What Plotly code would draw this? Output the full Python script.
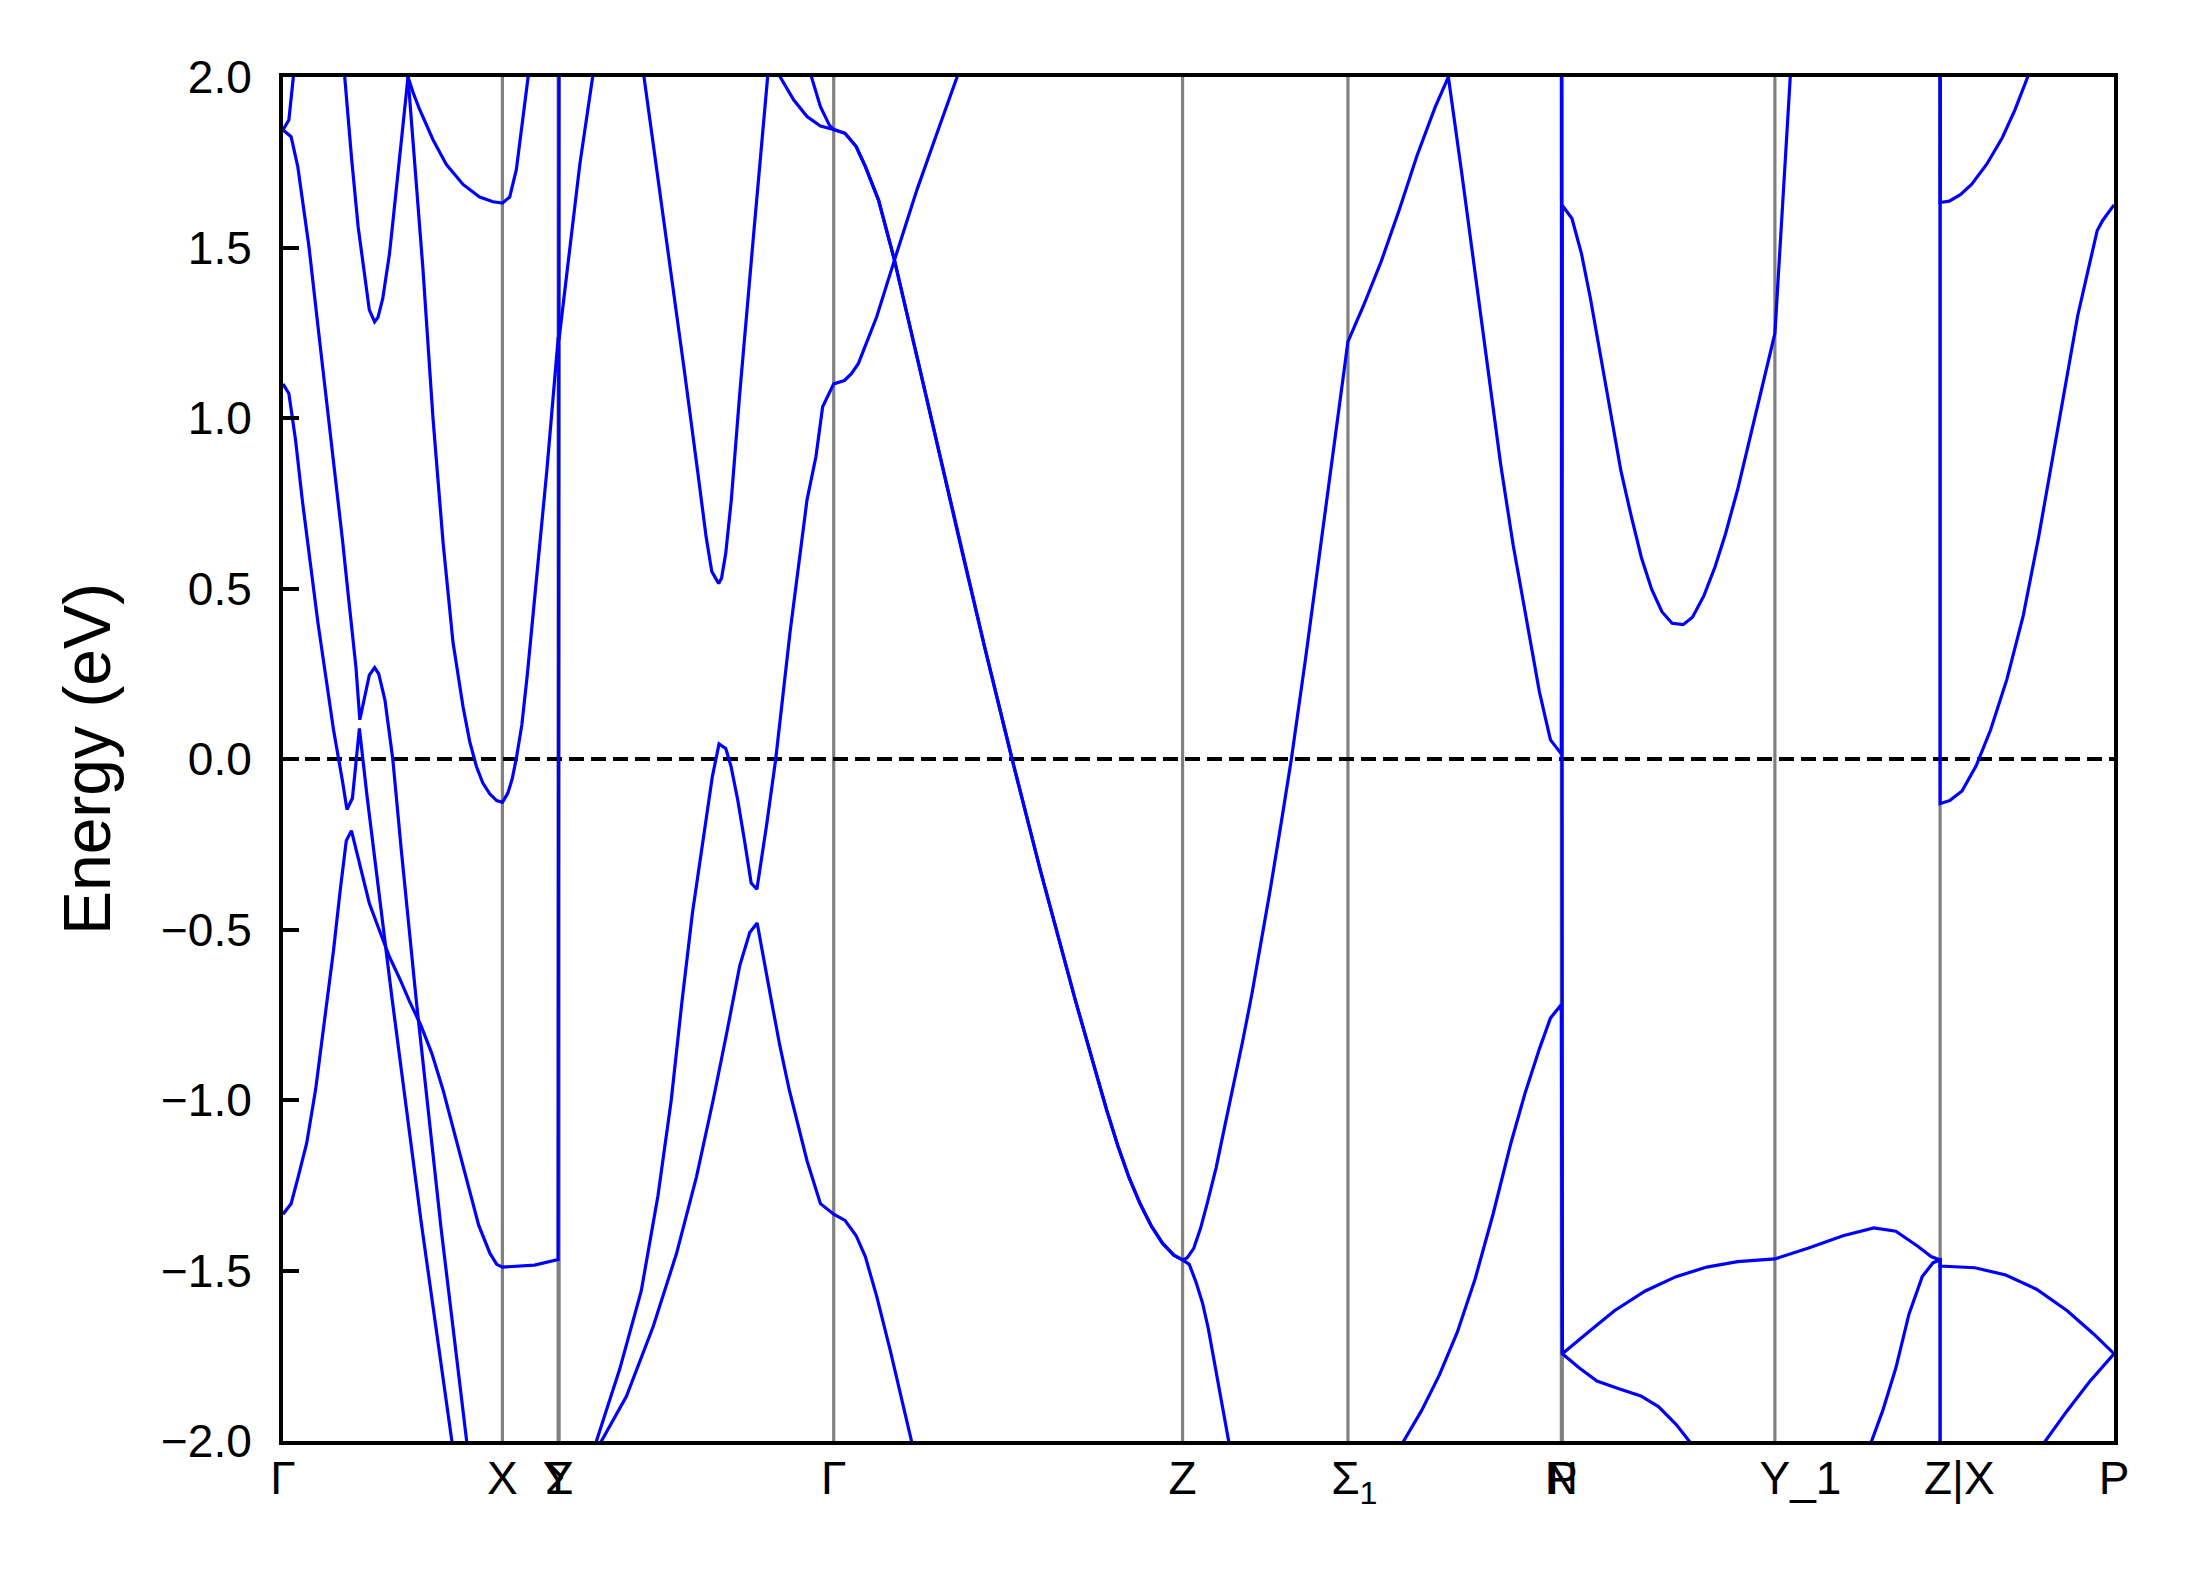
import plotly.graph_objects as go

# ---------------- high-symmetry path (BCT2) ----------------
k_ticks = [0.000, 1.571, 1.970, 1.977, 3.943, 6.441, 7.625, 9.153, 9.160, 10.682, 11.865, 13.110]
k_labels = ["Γ", "X", "Y", "Σ", "Γ", "Z", "Σ<sub>1</sub>", "N", "P", "Y_1", "Z|X", "P"]

energy_window = [-2.0, 2.0]
energy_ticks = [-2.0, -1.5, -1.0, -0.5, 0.0, 0.5, 1.0, 1.5, 2.0]
energy_tick_labels = ["−2.0", "−1.5", "−1.0", "−0.5", "0.0", "0.5", "1.0", "1.5", "2.0"]
fermi_level = 0.0

# ---------------- bands: (k, E in eV) ----------------
band_a = [(0.000, 1.845), (0.042, 1.874), (0.074, 2.000), (0.090, 2.063)]

band_b = [(0.000, 1.845), (0.020, 1.838), (0.058, 1.825), (0.106, 1.737), (0.186, 1.502),
          (0.250, 1.270), (0.330, 0.990), (0.394, 0.760), (0.426, 0.642), (0.470, 0.470),
          (0.522, 0.271), (0.550, 0.115), (0.618, 0.246), (0.656, 0.268), (0.685, 0.250),
          (0.730, 0.173), (0.786, 0.000), (0.847, -0.267), (0.900, -0.480), (0.954, -0.707),
          (1.130, -1.370), (1.315, -2.000), (1.370, -2.187)]

band_c = [(0.000, 1.100), (0.042, 1.072), (0.090, 0.935), (0.138, 0.760), (0.250, 0.400),
          (0.362, 0.085), (0.426, -0.065), (0.458, -0.148), (0.497, -0.115), (0.547, 0.090),
          (0.602, -0.110), (0.666, -0.320), (0.730, -0.520), (0.780, -0.700), (0.990, -1.360),
          (1.209, -2.000), (1.270, -2.178)]

band_d = [(0.000, -1.335), (0.058, -1.304), (0.106, -1.230), (0.170, -1.126), (0.234, -0.968),
          (0.298, -0.759), (0.362, -0.560), (0.410, -0.384), (0.453, -0.240), (0.490, -0.210),
          (0.554, -0.316), (0.618, -0.423), (0.698, -0.511), (0.762, -0.580), (0.842, -0.650),
          (0.905, -0.710), (0.986, -0.780), (1.066, -0.864), (1.145, -0.969), (1.226, -1.094),
          (1.322, -1.251), (1.401, -1.367), (1.482, -1.450), (1.530, -1.482), (1.571, -1.490),
          (1.801, -1.484), (1.970, -1.468), (1.977, 2.600)]

band_e = [(0.400, 2.205), (0.442, 2.000), (0.490, 1.766), (0.538, 1.561), (0.586, 1.405),
          (0.618, 1.317), (0.656, 1.282), (0.680, 1.295), (0.714, 1.350), (0.740, 1.415),
          (0.762, 1.480), (0.788, 1.580), (0.810, 1.670), (0.835, 1.772), (0.858, 1.864),
          (0.895, 2.000)]

band_f = [(0.895, 2.000), (0.935, 1.790), (1.002, 1.437), (1.074, 0.999), (1.146, 0.635),
          (1.217, 0.343), (1.289, 0.153), (1.337, 0.051), (1.385, -0.022), (1.430, -0.070),
          (1.480, -0.102), (1.530, -0.122), (1.571, -0.127), (1.610, -0.100), (1.640, -0.060),
          (1.670, 0.000), (1.710, 0.100), (1.750, 0.250), (1.810, 0.500), (1.890, 0.850),
          (1.970, 1.233), (1.977, 1.233), (2.053, 1.495), (2.125, 1.743), (2.217, 2.000),
          (2.250, 2.092)]

band_g = [(0.895, 2.000), (0.931, 1.955), (0.979, 1.904), (1.074, 1.816), (1.170, 1.743),
          (1.289, 1.685), (1.408, 1.648), (1.504, 1.634), (1.571, 1.630), (1.623, 1.648),
          (1.671, 1.729), (1.719, 1.874), (1.755, 2.000), (1.770, 2.052)]

band_h = [(2.550, 2.104), (2.585, 2.000), (2.720, 1.600), (2.870, 1.150), (2.970, 0.840),
          (3.030, 0.650), (3.070, 0.550), (3.119, 0.515), (3.140, 0.530), (3.170, 0.603),
          (3.210, 0.760), (3.270, 1.070), (3.370, 1.540), (3.470, 2.000), (3.490, 2.092)]

band_i = [(2.200, -2.056), (2.244, -2.000), (2.411, -1.789), (2.565, -1.560), (2.685, -1.280),
          (2.780, -1.000), (2.857, -0.710), (2.932, -0.450), (3.012, -0.230), (3.074, -0.052),
          (3.122, 0.044), (3.170, 0.031), (3.208, -0.022), (3.256, -0.120), (3.304, -0.238),
          (3.352, -0.364), (3.393, -0.382), (3.438, -0.267), (3.464, -0.190), (3.528, 0.000),
          (3.630, 0.370), (3.752, 0.760), (3.816, 0.887), (3.864, 1.033), (3.912, 1.072),
          (3.943, 1.100), (4.020, 1.110), (4.070, 1.130), (4.120, 1.160), (4.170, 1.210),
          (4.251, 1.297), (4.378, 1.463), (4.539, 1.669), (4.699, 1.854), (4.826, 2.000),
          (4.870, 2.050)]

band_j = [(2.230, -2.037), (2.280, -2.000), (2.459, -1.869), (2.650, -1.665), (2.817, -1.451),
          (2.960, -1.226), (3.080, -1.000), (3.175, -0.808), (3.271, -0.605), (3.342, -0.509),
          (3.395, -0.481), (3.496, -0.707), (3.557, -0.840), (3.624, -0.969), (3.752, -1.178),
          (3.848, -1.304), (3.943, -1.335), (4.024, -1.353), (4.104, -1.398), (4.170, -1.460),
          (4.251, -1.576), (4.347, -1.733), (4.426, -1.869), (4.500, -2.000), (4.540, -2.070)]

# pair of bands meeting at Gamma, degenerate along Gamma-Z
pair_left_1 = [(3.500, 2.042), (3.560, 2.000), (3.656, 1.933), (3.752, 1.884), (3.848, 1.856)]
pair_left_2 = [(3.750, 2.046), (3.784, 2.000), (3.848, 1.913), (3.912, 1.859)]
pair_gamma_z = [(3.943, 1.846), (4.024, 1.835), (4.104, 1.796), (4.170, 1.737), (4.264, 1.639),
                (4.378, 1.463), (4.539, 1.180), (4.699, 0.893), (4.858, 0.615), (5.020, 0.335),
                (5.220, 0.000), (5.420, -0.322), (5.673, -0.707), (5.818, -0.916), (5.898, -1.030),
                (5.978, -1.135), (6.058, -1.228), (6.138, -1.305), (6.218, -1.370),
                (6.297, -1.420), (6.378, -1.455), (6.441, -1.469)]
pair_upper_z_n = [(6.473, -1.463), (6.521, -1.435), (6.569, -1.377), (6.617, -1.304),
                  (6.681, -1.199), (6.745, -1.073), (6.809, -0.952), (6.870, -0.830),
                  (6.937, -0.690), (7.000, -0.545), (7.070, -0.380), (7.150, -0.180),
                  (7.220, 0.000), (7.320, 0.290), (7.433, 0.642), (7.512, 0.887),
                  (7.576, 1.082), (7.625, 1.224),
                  (7.737, 1.330), (7.864, 1.460), (7.992, 1.610), (8.120, 1.770),
                  (8.248, 1.910), (8.344, 2.000), (8.440, 1.718), (8.536, 1.424),
                  (8.632, 1.131), (8.720, 0.860), (8.807, 0.630), (8.923, 0.357),
                  (8.996, 0.197), (9.075, 0.056), (9.153, 0.015)]
pair_upper_p_y1 = [(9.160, 1.623), (9.229, 1.585), (9.297, 1.482), (9.361, 1.351), (9.434, 1.182),
                   (9.507, 1.013), (9.580, 0.844), (9.653, 0.713), (9.726, 0.591), (9.800, 0.497),
                   (9.873, 0.432), (9.946, 0.398), (10.025, 0.394), (10.092, 0.416),
                   (10.174, 0.479), (10.253, 0.563), (10.326, 0.657), (10.414, 0.788),
                   (10.502, 0.938), (10.589, 1.088), (10.682, 1.248), (10.792, 2.000),
                   (10.810, 2.120)]
pair_lower_z = [(6.489, -1.482), (6.537, -1.534), (6.585, -1.597), (6.625, -1.670),
                (6.665, -1.760), (6.713, -1.880), (6.771, -2.000), (6.810, -2.080)]

band_m = [(7.980, -2.031), (8.024, -2.000), (8.152, -1.911), (8.280, -1.806), (8.408, -1.681),
          (8.536, -1.524), (8.664, -1.335), (8.792, -1.126), (8.893, -0.980), (8.996, -0.850),
          (9.075, -0.760), (9.153, -0.720),
          (9.160, -1.744), (9.345, -1.681), (9.533, -1.618), (9.754, -1.560), (9.974, -1.518),
          (10.194, -1.490), (10.415, -1.474), (10.682, -1.466), (10.918, -1.435),
          (11.170, -1.398), (11.390, -1.375), (11.548, -1.385), (11.705, -1.429),
          (11.800, -1.459), (11.865, -1.469),
          (11.865, -1.487), (12.114, -1.492), (12.335, -1.513), (12.555, -1.555),
          (12.775, -1.618), (12.964, -1.686), (13.110, -1.744)]

band_p = [(9.153, 2.600), (9.160, -1.744), (9.282, -1.786), (9.408, -1.824), (9.565, -1.847),
          (9.722, -1.868), (9.848, -1.899), (9.974, -1.951), (10.068, -2.000), (10.130, -2.032)]

band_q = [(11.340, -2.039), (11.375, -2.000), (11.454, -1.911), (11.548, -1.786), (11.642, -1.628),
          (11.737, -1.518), (11.815, -1.477), (11.865, -1.469), (11.865, -2.600)]

band_r = [(11.865, 2.600), (11.865, 1.632), (11.930, 1.636), (12.010, 1.655), (12.090, 1.685),
          (12.200, 1.745), (12.310, 1.822), (12.400, 1.903), (12.492, 2.000), (12.530, 2.040)]

band_s = [(11.865, 2.600), (11.865, -0.131), (11.934, -0.122), (12.022, -0.094), (12.124, -0.019),
          (12.226, 0.085), (12.344, 0.235), (12.461, 0.422), (12.570, 0.650), (12.670, 0.880),
          (12.760, 1.100), (12.850, 1.300), (12.945, 1.470), (12.990, 1.550), (13.030, 1.580),
          (13.110, 1.625)]

band_u = [(12.580, -2.022), (12.618, -2.000), (12.775, -1.911), (12.933, -1.827), (13.110, -1.744)]

bands = [
    band_a, band_b, band_c, band_d, band_e, band_f, band_g, band_h, band_i, band_j,
    pair_left_1 + pair_gamma_z + pair_upper_z_n + pair_upper_p_y1,
    pair_left_2 + pair_gamma_z + pair_lower_z,
    band_m, band_p, band_q, band_r, band_s, band_u,
]

BAND_COLOR = "#0000ff"
FONT = "Liberation Sans, Arial, Helvetica, sans-serif"
NBSP = "\u00a0"


def first_glyph_on_tick(label):
    """The reference puts the first glyph of multi-character labels on the tick;
    pad with non-breaking spaces on the left to mimic that."""
    pads = {"Y_1": 4, "Z|X": 3, "Σ<sub>1</sub>": 1}
    return NBSP * pads.get(label, 0) + label


fig = go.Figure()
for band in bands:
    fig.add_trace(go.Scatter(
        x=[p[0] for p in band], y=[p[1] for p in band],
        mode="lines", line=dict(color=BAND_COLOR, width=3.2),
        hoverinfo="skip", showlegend=False,
    ))

# vertical lines at the high-symmetry points
for kv in k_ticks[1:-1]:
    fig.add_shape(type="line", x0=kv, x1=kv, y0=0, y1=1, xref="x", yref="paper",
                  line=dict(color="#808080", width=3.2), layer="below")

# Fermi level
fig.add_shape(type="line", x0=0, x1=1, y0=fermi_level, y1=fermi_level, xref="paper", yref="y",
              line=dict(color="black", width=4, dash="15px,7px"), layer="below")

fig.update_layout(
    width=2189, height=1573,
    margin=dict(l=283, r=75, t=77, b=132),
    plot_bgcolor="white", paper_bgcolor="white",
    font=dict(family=FONT, color="black"),
    showlegend=False,
)
fig.update_xaxes(
    range=[k_ticks[0], k_ticks[-1]],
    tickmode="array", tickvals=k_ticks, ticktext=[first_glyph_on_tick(t) for t in k_labels],
    tickfont=dict(size=46, family=FONT, color="black"),
    tickangle=0,
    ticks="", showgrid=False, zeroline=False,
    showline=True, linecolor="black", linewidth=4, mirror=True,
    ticklabelstandoff=-6,
)
fig.update_yaxes(
    range=energy_window,
    tickmode="array", tickvals=energy_ticks, ticktext=energy_tick_labels,
    tickfont=dict(size=46, family=FONT, color="black"),
    ticks="inside", ticklen=16, tickwidth=3.5, tickcolor="black",
    showgrid=False, zeroline=False,
    showline=True, linecolor="black", linewidth=4, mirror=True,
    ticklabelstandoff=18,
    title=dict(text="Energy (eV)", font=dict(size=66, family=FONT, color="black"), standoff=30),
)

fig.write_html(
    "out.html",
    config={"displayModeBar": False},
    post_script="document.body.style.margin='0';document.body.style.overflow='hidden';",
)
